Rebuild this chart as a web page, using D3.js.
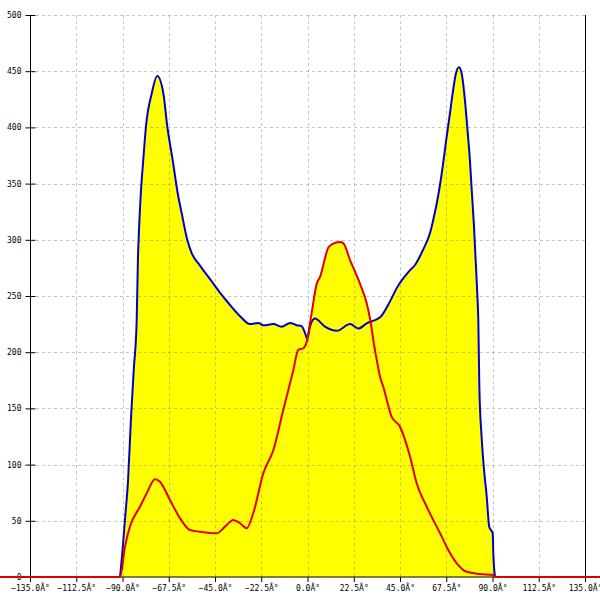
<!DOCTYPE html>
<html><head><meta charset="utf-8">
<script src="https://cdn.jsdelivr.net/npm/d3@7"></script>
<style>body{margin:0;background:#fff}svg{display:block}</style>
</head><body>
<svg id="c" width="600" height="600"></svg>
<script>
const xTicks = [-135, -112.5, -90, -67.5, -45, -22.5, 0, 22.5, 45, 67.5, 90, 112.5, 135];
const yTicks = [0, 50, 100, 150, 200, 250, 300, 350, 400, 450, 500];

const blueAngles = [-91.2,-90.1,-88.8,-87.3,-85.9,-84.5,-83.1,-82.5,-81.9,-81.1,-79.9,-78.6,-75.8,-73.1,-70.1,-68.2,-65.6,-63.1,-61.2,-58.5,-56.3,-52.3,-47.4,-42.6,-37.7,-32.8,-28.0,-23.9,-21.5,-16.6,-12.6,-8.5,-5.3,-2.8,-1.2,-0.1,1.2,3.6,8.5,14.2,20.7,24.7,28.8,35.3,40.1,43.4,49.9,52.3,56.3,59.6,61.2,62.9,65.3,67.7,69.3,70.6,72.2,73.7,75.0,76.6,77.7,79.0,80.0,81.0,81.8,82.6,83.1,83.6,84.7,85.9,87.2,88.4,90.1,90.4,91.2];
const blueValues = [0,21,51,86,140,185,228,282,311.7,341,371,400.6,430,445.7,430,400.6,371,341,323.6,300,288,277,265,253,242,232,225,226,224,225,222.7,226,224,223,217,212,222.7,230,222.7,219,225,221,225.7,231,245,257,273,277.6,291.5,306,318,332.5,359,391.7,412.5,430,448,453.5,448,424,400.6,371,341,311.7,282,252,228,169,124.8,95,71.4,44.7,38.9,21,0];

const redAngles = [-150,-91.2,-88.8,-86.4,-81.5,-78.2,-74.2,-71.8,-66.9,-62.0,-57.2,-52.3,-44.2,-40.1,-36.1,-32.8,-29.6,-26.4,-21.5,-16.6,-11.8,-6.9,-4.5,-2.0,-0.4,1.2,2.0,4.5,6.1,10.1,11.8,15.8,17.4,20.7,25.5,28.8,30.4,32.8,33.7,35.3,36.9,40.9,45.0,49.9,53.1,58.0,64.5,68.5,72.6,77.4,83.9,90.4,91.2,150];
const redValues = [0,0,27,44.8,62.5,74.5,87,84.8,68.5,52.2,41.8,40.3,38.9,44.8,50.7,47.8,43.3,56.7,92.3,113,148.6,184,202,203.5,209,225.7,234.6,261,267,293,296,298,297,282,261,243.5,230,202,193,178,169,142.6,133.7,107,83.4,62.5,38.9,24,12.2,4.7,2.7,1.8,0,0];

const blue = blueAngles.map((a,i)=>({a, v: blueValues[i]}));
const red = redAngles.map((a,i)=>({a, v: redValues[i]}));

const svg = d3.select("#c");
const x = d3.scaleLinear().domain([-135,135]).range([30,585]);
const y = d3.scaleLinear().domain([0,500]).range([577,15]);

const area = d3.area().x(d=>x(d.a)).y0(y(0)).y1(d=>y(d.v)).curve(d3.curveMonotoneX);
const line = d3.line().x(d=>x(d.a)).y(d=>y(d.v)).curve(d3.curveMonotoneX);

svg.append("path").datum(blue).attr("d", area).attr("fill", "#ffff00");
svg.append("path").datum(red.filter(d=>d.a>=-135&&d.a<=135)).attr("d", area).attr("fill", "#ffff00");

// grid
const g = svg.append("g").attr("stroke", "#808080").attr("stroke-opacity", 0.45).attr("stroke-dasharray", "3,3").attr("stroke-width", 1);
yTicks.filter(t=>t>0).forEach(t=>{
  g.append("line").attr("x1", 30).attr("x2", 585).attr("y1", Math.round(y(t))+0.5).attr("y2", Math.round(y(t))+0.5);
});
xTicks.filter(t=>t>-135 && t<135).forEach(t=>{
  g.append("line").attr("y1", 15).attr("y2", 577).attr("x1", Math.round(x(t))+0.5).attr("x2", Math.round(x(t))+0.5);
});

// right border
svg.append("line").attr("x1", x(135)+0.5).attr("x2", x(135)+0.5).attr("y1", 15).attr("y2", 577).attr("stroke", "#000");

// y axis
const yAxis = d3.axisLeft(y).tickValues(yTicks).tickSize(5).tickFormat(d3.format("d"));
const ya = svg.append("g").attr("transform", "translate(30.5,0)").call(yAxis);
ya.selectAll(".tick line").attr("x2", -5).attr("x1", 5);
ya.select(".domain").attr("d", `M0,${y(500)}V${y(0)}`);
ya.selectAll("text").attr("font-family", "DejaVu Sans Mono").attr("font-size", 8).attr("x", -9).attr("fill", "#000");

// x axis
const xAxis = d3.axisBottom(x).tickValues(xTicks).tickSize(5).tickFormat(d=>d3.format(".1f")(d)+"Â°");
const xa = svg.append("g").attr("transform", `translate(0,${y(0)})`).call(xAxis);
xa.select(".domain").attr("d", `M${x(-135)},0H${x(135)}`);
xa.selectAll("text").attr("font-family", "DejaVu Sans Mono").attr("font-size", 8).attr("y", 8).attr("fill", "#000");

// lines
svg.append("path").datum(blue).attr("d", line).attr("fill", "none").attr("stroke", "#0000cc").attr("stroke-width", 2);
svg.append("path").datum(red).attr("d", line).attr("fill", "none").attr("stroke", "#e00000").attr("stroke-width", 2);
</script>
</body></html>
